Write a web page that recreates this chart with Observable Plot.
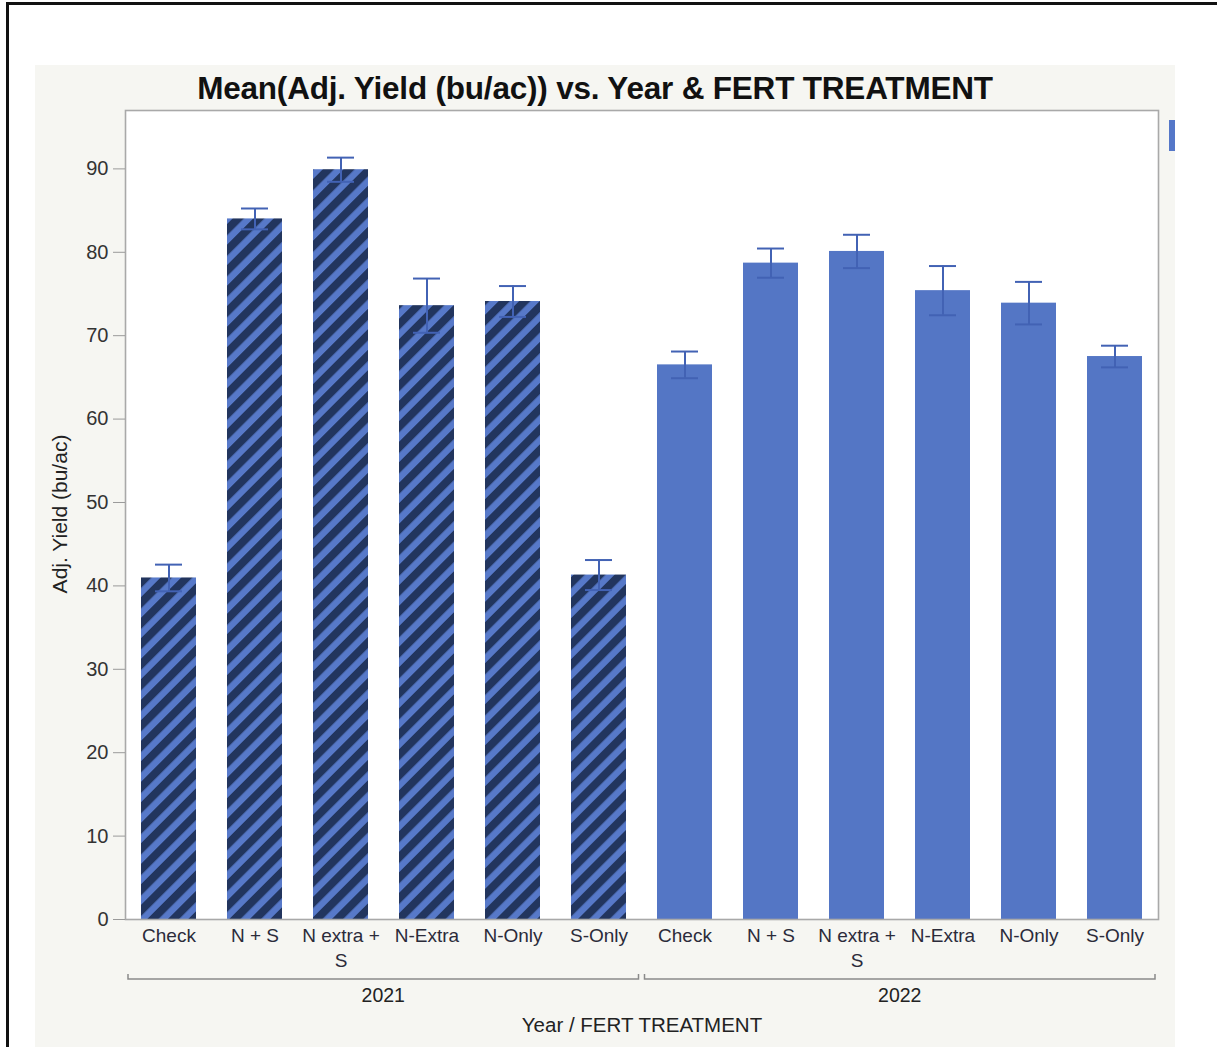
<!DOCTYPE html>
<html>
<head>
<meta charset="utf-8">
<script src="https://cdn.jsdelivr.net/npm/d3@7"></script>
<script src="https://cdn.jsdelivr.net/npm/@observablehq/plot@0.6"></script>
<style>
html,body{margin:0;padding:0;background:#fff;}
#wrap{position:relative;width:1217px;height:1047px;overflow:hidden;font-family:"Liberation Sans",Arial,Helvetica,sans-serif;}
#border{position:absolute;left:6px;top:2px;width:1300px;height:1100px;border-top:3px solid #111;border-left:3px solid #111;}
#panel{position:absolute;left:35px;top:65px;width:1140px;height:982px;background:#f6f6f2;}
#title{position:absolute;left:0;width:1190px;top:70px;text-align:center;font-weight:bold;font-size:31.5px;color:#111;white-space:nowrap;letter-spacing:-0.2px;}
#legendbit{position:absolute;left:1169px;top:120px;width:6px;height:31px;background:#5577c8;}
#chart{position:absolute;left:0;top:0;}
</style>
</head>
<body>
<div id="wrap">
  <div id="border"></div>
  <div id="panel"></div>
  <div id="legendbit"></div>
  <div id="chart"></div>
  <div id="title">Mean(Adj. Yield (bu/ac)) vs. Year &amp; FERT TREATMENT</div>
</div>
<script>
const years = ["2021", "2022"];
const treatments = ["Check", "N + S", "N extra + S", "N-Extra", "N-Only", "S-Only"];
const tickLabels = ["Check", "N + S", "N extra +\nS", "N-Extra", "N-Only", "S-Only"];
const yield2021 = [40.95, 84.0, 89.9, 73.6, 74.1, 41.3];
const err2021 = [1.6, 1.25, 1.45, 3.25, 1.85, 1.8];
const yield2022 = [66.5, 78.7, 80.1, 75.4, 73.9, 67.5];
const err2022 = [1.6, 1.75, 2.0, 2.95, 2.55, 1.3];
const yTicks = [0, 10, 20, 30, 40, 50, 60, 70, 80, 90];
const yTitle = "Adj. Yield (bu/ac)";
const xTitle = "Year / FERT TREATMENT";

const series = {"2021": [yield2021, err2021], "2022": [yield2022, err2022]};
const data = [];
for (const yr of years) {
  treatments.forEach((t, i) => {
    data.push({year: yr, treatment: t, key: yr + "|" + t, label: tickLabels[i], value: series[yr][0][i], err: series[yr][1][i]});
  });
}
const keys = data.map(d => d.key);
const labelOf = new Map(data.map(d => [d.key, d.label]));

const errColor = "#4262b4";
const font = "'Liberation Sans', Arial, Helvetica, sans-serif";

const chart = Plot.plot({
  width: 1217,
  height: 1047,
  marginLeft: 125,
  marginRight: 59,
  marginTop: 110,
  marginBottom: 128,
  style: {background: "transparent", fontFamily: font, fontSize: "19px", overflow: "visible"},
  x: {type: "band", domain: keys, paddingInner: 0.36, paddingOuter: 0.18},
  y: {domain: [0, 97]},
  color: {type: "ordinal", domain: years, range: ["url(#stripes)", "#5476c5"]},
  marks: [
    Plot.frame({fill: "white", stroke: null}),
    Plot.barY(data, {x: "key", y: "value", fill: "year"}),
    Plot.ruleX(data, {x: "key", y1: d => d.value - d.err, y2: d => d.value + d.err, stroke: errColor, strokeWidth: 2}),
    Plot.tickY(data, {x: "key", y: d => d.value + d.err, insetLeft: 14, insetRight: 14, stroke: errColor, strokeWidth: 2}),
    Plot.tickY(data, {x: "key", y: d => d.value - d.err, insetLeft: 14, insetRight: 14, stroke: errColor, strokeWidth: 2}),
    Plot.frame({stroke: "#a9a9a9", strokeWidth: 1.6}),
    Plot.axisY({ticks: yTicks, tickSize: 12, tickPadding: 5, stroke: "#9a9a9a", fill: "#333", fontSize: 20, label: null}),
    Plot.axisX({tickSize: 0, tickPadding: 5, tickFormat: k => labelOf.get(k), fontSize: 19, lineHeight: 1.32, fill: "#2b2b3a", label: null}),
    Plot.text([yTitle], {text: d => d, frameAnchor: "left", textAnchor: "middle", dx: -65, dy: -1, rotate: -90, fontSize: 21, fill: "#222"}),
    Plot.text([xTitle], {text: d => d, frameAnchor: "bottom", dy: 112, fontSize: 20.5, fill: "#222"})
  ]
});

document.getElementById("chart").appendChild(chart);

// stripe pattern for 2021 bars
const svg = d3.select(chart);
const defs = svg.insert("defs", ":first-child");
const pat = defs.append("pattern").attr("id", "stripes")
  .attr("patternUnits", "userSpaceOnUse").attr("width", 14.5).attr("height", 14.5)
  .attr("patternTransform", "rotate(45)");
pat.append("rect").attr("width", 14.5).attr("height", 14.5).attr("fill", "#5779c9");
pat.append("rect").attr("width", 8).attr("height", 14.5).attr("fill", "#22355e");

// year group brackets and labels, positioned from Plot's x scale
const xs = chart.scale("x");
const bw = xs.bandwidth;
const [r0, r1] = xs.range;
const firstOf = yr => keys.find(k => k.startsWith(yr));
const lastOf = yr => keys.filter(k => k.startsWith(yr)).slice(-1)[0];
const mid = (xs.apply(lastOf(years[0])) + bw + xs.apply(firstOf(years[1]))) / 2;
const groups = [
  {year: years[0], x0: r0 + 3, x1: mid - 3},
  {year: years[1], x0: mid + 3, x1: r1 - 3}
];
const ys = chart.scale("y");
const yBase = ys.apply(0);
const g = svg.append("g");
groups.forEach(gr => {
  g.append("path")
    .attr("d", `M${gr.x0},${yBase + 55}V${yBase + 60}H${gr.x1}V${yBase + 55}`)
    .attr("fill", "none").attr("stroke", "#8a8a8a").attr("stroke-width", 1.5);
  g.append("text")
    .attr("x", (gr.x0 + gr.x1) / 2).attr("y", yBase + 83)
    .attr("text-anchor", "middle").attr("font-size", 19.5).attr("fill", "#222")
    .attr("font-family", font)
    .text(gr.year);
});
</script>
</body>
</html>
